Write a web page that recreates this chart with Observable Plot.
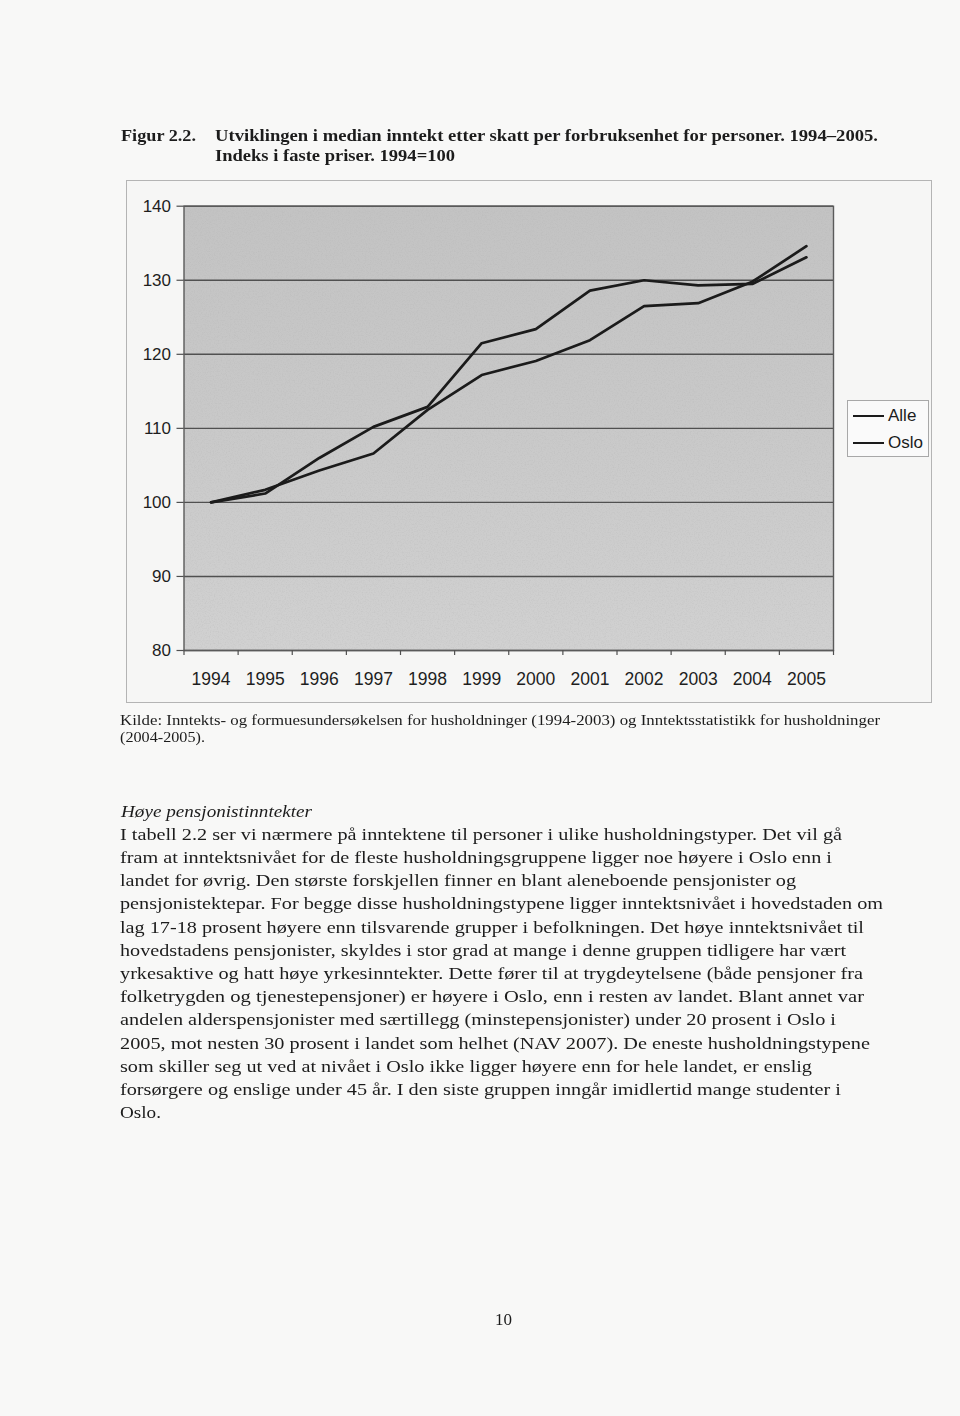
<!DOCTYPE html>
<html>
<head>
<meta charset="utf-8">
<script src="https://cdn.jsdelivr.net/npm/d3@7"></script>
<script src="https://cdn.jsdelivr.net/npm/@observablehq/plot@0.6"></script>
<style>
  html, body { margin: 0; padding: 0; background: #f8f8f7; }
  #page { position: relative; width: 960px; height: 1416px; background: #f8f8f7; overflow: hidden; }
  .ln { position: absolute; white-space: nowrap; line-height: 1; transform-origin: 0 0; color: #1c1c1c; }
  .serif { font-family: "Liberation Serif", "Times New Roman", serif; }
  .sans { font-family: "Liberation Sans", Arial, sans-serif; }
  #box { position: absolute; left: 126px; top: 180px; width: 806px; height: 523px; border: 1px solid #b4b4b4; background: #f6f6f5; box-sizing: border-box; }
  #chart { position: absolute; left: 126px; top: 180px; }
  #legend { position: absolute; left: 847px; top: 400px; width: 82px; height: 57px; border: 1px solid #a8a8a8; background: #fafafa; box-sizing: border-box; }
  .lg-line { position: absolute; left: 5px; width: 31px; height: 2px; background: #1b1b1b; }
  .lg-text { position: absolute; left: 40px; font-family: "Liberation Sans", Arial, sans-serif; font-size: 17px; line-height: 1; color: #1c1c1c; }
</style>
</head>
<body>
<div id="page">
  <div id="box"></div>
  <div id="chart"></div>
  <div id="legend"></div>
</div>
<script>
// ---------- data ----------
const years = [1994, 1995, 1996, 1997, 1998, 1999, 2000, 2001, 2002, 2003, 2004, 2005];
const seriesNames = ["Alle", "Oslo"];
const alle = [100, 101.7, 104.3, 106.6, 112.5, 117.2, 119.1, 121.9, 126.5, 126.9, 129.8, 134.6];
const oslo = [100, 101.2, 106.0, 110.2, 112.9, 121.5, 123.4, 128.6, 130.0, 129.3, 129.5, 133.1];
const yTicks = [80, 90, 100, 110, 120, 130, 140];

const titleNumber = "Figur 2.2.";
const titleLines = [
  "Utviklingen i median inntekt etter skatt per forbruksenhet for personer. 1994\u20132005.",
  "Indeks i faste priser. 1994=100"
];
const sourceLines = [
  "Kilde: Inntekts- og formuesunders\u00f8kelsen for husholdninger (1994-2003) og Inntektsstatistikk for husholdninger",
  "(2004-2005)."
];
const heading = "H\u00f8ye pensjonistinntekter";
const paragraphLines = [
  "I tabell 2.2 ser vi n\u00e6rmere p\u00e5 inntektene til personer i ulike husholdningstyper. Det vil g\u00e5",
  "fram at inntektsniv\u00e5et for de fleste husholdningsgruppene ligger noe h\u00f8yere i Oslo enn i",
  "landet for \u00f8vrig. Den st\u00f8rste forskjellen finner en blant aleneboende pensjonister og",
  "pensjonistektepar. For begge disse husholdningstypene ligger inntektsniv\u00e5et i hovedstaden om",
  "lag 17-18 prosent h\u00f8yere enn tilsvarende grupper i befolkningen. Det h\u00f8ye inntektsniv\u00e5et til",
  "hovedstadens pensjonister, skyldes i stor grad at mange i denne gruppen tidligere har v\u00e6rt",
  "yrkesaktive og hatt h\u00f8ye yrkesinntekter. Dette f\u00f8rer til at trygdeytelsene (b\u00e5de pensjoner fra",
  "folketrygden og tjenestepensjoner) er h\u00f8yere i Oslo, enn i resten av landet. Blant annet var",
  "andelen alderspensjonister med s\u00e6rtillegg (minstepensjonister) under 20 prosent i Oslo i",
  "2005, mot nesten 30 prosent i landet som helhet (NAV 2007). De eneste husholdningstypene",
  "som skiller seg ut ved at niv\u00e5et i Oslo ikke ligger h\u00f8yere enn for hele landet, er enslig",
  "fors\u00f8rgere og enslige under 45 \u00e5r. I den siste gruppen inng\u00e5r imidlertid mange studenter i",
  "Oslo."
];
const pageNumber = "10";

// ---------- layout (not data) ----------
const page = document.getElementById("page");
function addLine(text, x, baseline, size, cls, targetWidth, extra) {
  const el = document.createElement("div");
  el.className = "ln " + cls;
  el.textContent = text;
  el.style.fontSize = size + "px";
  if (extra) Object.assign(el.style, extra);
  const asc = cls === "sans" ? 0.8465 : 0.8375;
  el.style.left = x + "px";
  el.style.top = (baseline - asc * size) + "px";
  page.appendChild(el);
  if (targetWidth) {
    const w = el.getBoundingClientRect().width;
    if (w > 0) el.style.transform = `scaleX(${targetWidth / w})`;
  }
  return el;
}

// title
addLine(titleNumber, 121, 141, 16, "serif", 75, {fontWeight: "bold"});
addLine(titleLines[0], 215, 141, 16, "serif", 663, {fontWeight: "bold"});
addLine(titleLines[1], 215, 161, 16, "serif", 240, {fontWeight: "bold"});

// source
addLine(sourceLines[0], 120, 725, 14.5, "serif", 760);
addLine(sourceLines[1], 120, 742, 14.5, "serif", 85);

// heading
addLine(heading, 121, 817, 17, "serif", 191, {fontStyle: "italic"});

// paragraph
const paraWidths = [722, 712, 676, 763, 744, 726, 743, 744, 716, 750, 692, 721, 41];
paragraphLines.forEach((t, i) => addLine(t, 120, 840 + 23.2 * i, 17, "serif", paraWidths[i]));

// page number
addLine(pageNumber, 495, 1325, 16, "serif", 17);

// ---------- chart ----------
const data = [];
years.forEach((yr, i) => {
  data.push({year: yr, value: alle[i], series: seriesNames[0]});
  data.push({year: yr, value: oslo[i], series: seriesNames[1]});
});
const bandEdges = years.map(y => y - 0.5).concat([years[years.length - 1] + 0.5]);

const chart = Plot.plot({
  width: 806,
  height: 523,
  marginLeft: 57.5,
  marginRight: 99,
  marginTop: 25.7,
  marginBottom: 53,
  style: {fontFamily: "Liberation Sans, Arial, sans-serif", fontSize: "17px", color: "#1e1e1e", background: "transparent", overflow: "visible"},
  x: {type: "linear", domain: [years[0] - 0.5, years[years.length - 1] + 0.5]},
  y: {domain: [yTicks[0], yTicks[yTicks.length - 1]]},
  marks: [
    Plot.frame({fill: "url(#plotbg)", stroke: null}),
    Plot.gridY(yTicks, {stroke: "#505050", strokeOpacity: 1, strokeWidth: 1.4}),
    Plot.frame({stroke: "#5a5a5a", strokeWidth: 1.4}),
    Plot.axisY({ticks: yTicks, tickSize: 7, tickPadding: 6, fontSize: 17, stroke: "#505050", strokeWidth: 1.2, label: null}),
    Plot.axisX({ticks: bandEdges, tickSize: 5, tickFormat: () => "", stroke: "#505050", strokeWidth: 1.2, label: null}),
    Plot.axisX({ticks: years, tickSize: 0, tickPadding: 22, fontSize: 17.5, tickFormat: d => String(d), label: null}),
    Plot.line(data, {x: "year", y: "value", z: "series", stroke: "#1b1b1b", strokeWidth: 2.7, strokeLinejoin: "miter"})
  ]
});
// gradient + grain defs for plot background
const ns = "http://www.w3.org/2000/svg";
const defs = document.createElementNS(ns, "defs");
defs.innerHTML = `<linearGradient id="plotbg" x1="0" y1="0" x2="0" y2="1">
  <stop offset="0" stop-color="#c3c3c3"/><stop offset="0.5" stop-color="#c9c9c9"/><stop offset="1" stop-color="#d1d1d1"/>
</linearGradient>
<filter id="grain" x="0" y="0" width="100%" height="100%">
  <feTurbulence type="fractalNoise" baseFrequency="0.75" numOctaves="2" seed="3" result="n"/>
  <feColorMatrix in="n" type="matrix" values="0 0 0 0 0.4  0 0 0 0 0.4  0 0 0 0 0.4  0 0 0 1.4 -0.62" result="g"/>
  <feComposite in="g" in2="SourceGraphic" operator="in"/>
</filter>`;
chart.insertBefore(defs, chart.firstChild);
// add a grain overlay on top of the background frame
try {
  const bg = Array.from(chart.querySelectorAll("rect")).find(r => {
    const f = r.getAttribute("fill") || (r.parentNode && r.parentNode.getAttribute && r.parentNode.getAttribute("fill"));
    return f && f.indexOf("plotbg") >= 0;
  });
  if (bg) {
    const g = bg.cloneNode(true);
    g.setAttribute("fill", "#888");
    g.setAttribute("filter", "url(#grain)");
    g.setAttribute("opacity", "0.35");
    bg.parentNode.insertBefore(g, bg.nextSibling);
  }
} catch (e) {}
document.getElementById("chart").appendChild(chart);

// legend (inside the chart box)
const legend = document.getElementById("legend");
seriesNames.forEach((name, i) => {
  const cy = 15 + 27 * i;
  const l = document.createElement("div");
  l.className = "lg-line";
  l.style.top = (cy - 1) + "px";
  legend.appendChild(l);
  const t = document.createElement("div");
  t.className = "lg-text";
  t.textContent = name;
  t.style.top = (cy - 9) + "px";
  legend.appendChild(t);
});
</script>
</body>
</html>
